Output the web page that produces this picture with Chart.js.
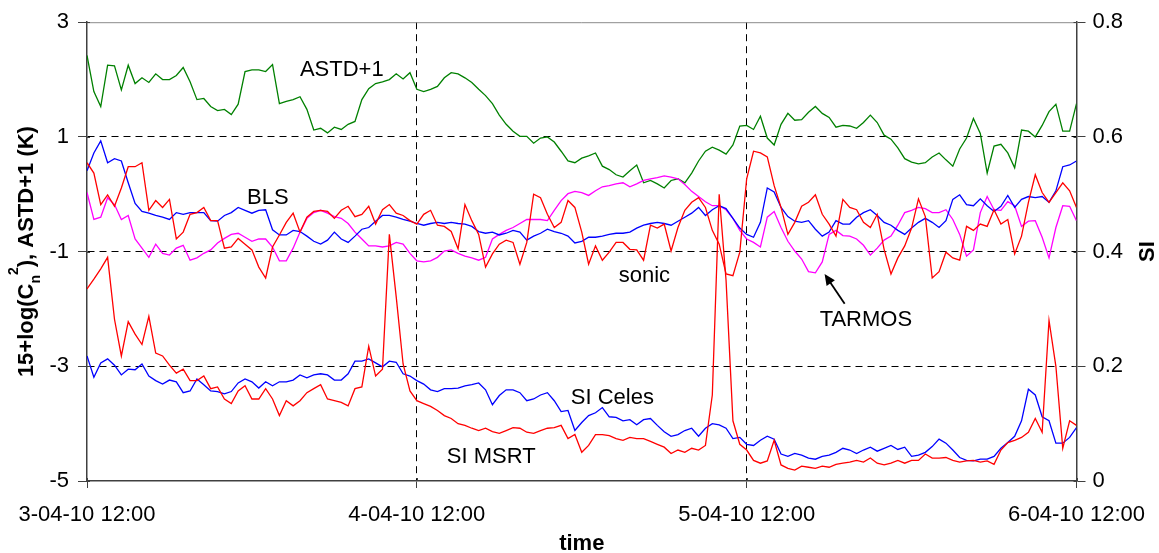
<!DOCTYPE html>
<html>
<head>
<meta charset="utf-8">
<title>Cn2 and scintillation index, 3-6 April 2010</title>
<script src="https://cdn.jsdelivr.net/npm/chart.js@4.4.1/dist/chart.umd.min.js"></script>
<style>
  html, body { margin: 0; padding: 0; background: #fff; }
  #wrap { width: 1159px; height: 553px; }
</style>
</head>
<body>
<div id="wrap"><canvas id="chart" width="1159" height="553"></canvas></div>
<script>
// samples every half hour, starting 3-04-10 12:00
const SAMPLE_STEP_HOURS = 0.5;

const timeTickLabels = ['3-04-10 12:00', '4-04-10 12:00', '5-04-10 12:00', '6-04-10 12:00'];

// left axis: ASTD + 1 (K)
const astdPlusOne = [
  2.42, 1.79, 1.53, 2.25, 2.24, 1.82, 2.25, 1.93, 2.03, 1.95,
  2.10, 2.00, 2.00, 2.07, 2.21, 1.96, 1.65, 1.67, 1.53, 1.46,
  1.48, 1.39, 1.57, 2.14, 2.17, 2.17, 2.14, 2.26, 1.58, 1.62,
  1.65, 1.70, 1.48, 1.12, 1.15, 1.07, 1.17, 1.13, 1.22, 1.27,
  1.65, 1.84, 1.93, 1.96, 2.00, 2.10, 2.01, 2.12, 1.83, 1.79,
  1.83, 1.88, 2.03, 2.12, 2.10, 2.03, 1.95, 1.83, 1.72, 1.58,
  1.38, 1.22, 1.10, 1.01, 1.01, 0.89, 0.98, 1.00, 0.91, 0.75,
  0.58, 0.55, 0.63, 0.67, 0.72, 0.49, 0.43, 0.34, 0.30, 0.41,
  0.51, 0.20, 0.24, 0.18, 0.11, 0.24, 0.27, 0.20, 0.37, 0.58,
  0.75, 0.82, 0.77, 0.70, 0.86, 1.19, 1.20, 1.13, 1.36, 0.98,
  0.86, 1.22, 1.41, 1.29, 1.30, 1.43, 1.53, 1.41, 1.34, 1.17,
  1.20, 1.19, 1.15, 1.25, 1.38, 1.25, 1.03, 0.96, 0.81, 0.62,
  0.56, 0.53, 0.55, 0.65, 0.72, 0.60, 0.49, 0.79, 0.98, 1.32,
  1.06, 0.37, 0.84, 0.87, 0.72, 0.46, 1.12, 1.10, 1.00, 1.20,
  1.44, 1.57, 1.10, 1.10, 1.58
];

// left axis: 15 + log(Cn2) per instrument
const blsCn2 = [
  0.41, 0.72, 0.93, 0.55, 0.62, 0.58, 0.20, -0.16, -0.30, -0.33,
  -0.37, -0.40, -0.44, -0.32, -0.35, -0.32, -0.32, -0.32, -0.46, -0.47,
  -0.37, -0.32, -0.23, -0.28, -0.33, -0.28, -0.27, -0.62, -0.71, -0.71,
  -0.63, -0.65, -0.73, -0.82, -0.87, -0.80, -0.66, -0.78, -0.84, -0.73,
  -0.61, -0.58, -0.47, -0.37, -0.37, -0.40, -0.44, -0.47, -0.51, -0.54,
  -0.51, -0.49, -0.51, -0.49, -0.51, -0.52, -0.56, -0.65, -0.68, -0.66,
  -0.71, -0.68, -0.63, -0.66, -0.80, -0.73, -0.68, -0.61, -0.65, -0.68,
  -0.73, -0.85, -0.82, -0.75, -0.75, -0.73, -0.70, -0.68, -0.68, -0.66,
  -0.59, -0.54, -0.51, -0.49, -0.51, -0.54, -0.47, -0.40, -0.33, -0.23,
  -0.37, -0.27, -0.20, -0.25, -0.42, -0.59, -0.70, -0.75, -0.49, 0.11,
  0.04, -0.23, -0.39, -0.47, -0.49, -0.46, -0.61, -0.73, -0.66, -0.46,
  -0.52, -0.52, -0.40, -0.32, -0.27, -0.37, -0.49, -0.54, -0.63, -0.70,
  -0.59, -0.49, -0.42, -0.49, -0.58, -0.46, -0.09, -0.01, -0.18, -0.20,
  -0.08, -0.20, -0.30, -0.21, -0.02, -0.23, -0.09, -0.04, -0.06, -0.04,
  -0.14, 0.06, 0.48, 0.51, 0.58
];

const sonicCn2 = [
  0.55, 0.37, -0.18, -0.01, -0.21, 0.11, 0.48, 0.48, 0.55, -0.28,
  -0.11, -0.23, -0.09, -0.78, -0.66, -0.35, -0.32, -0.23, -0.46, -0.46,
  -0.94, -0.92, -0.77, -0.87, -0.97, -1.27, -1.46, -0.92, -0.71, -0.49,
  -0.33, -0.66, -0.40, -0.30, -0.28, -0.30, -0.42, -0.28, -0.21, -0.39,
  -0.35, -0.21, -0.52, -0.27, -0.18, -0.33, -0.37, -0.46, -0.52, -0.35,
  -0.28, -0.54, -0.56, -0.65, -0.95, -0.18, -0.46, -0.70, -1.27, -1.04,
  -0.87, -0.80, -0.84, -1.22, -0.84, 0.00, -0.06, -0.35, -0.58, -0.49,
  -0.11, -0.23, -0.66, -1.22, -0.90, -1.15, -1.01, -0.84, -0.84, -0.96,
  -0.97, -1.15, -0.54, -0.59, -0.52, -0.99, -0.58, -0.28, -0.14, -0.06,
  -0.23, -0.63, -0.87, -1.39, -1.42, -1.01, 0.27, 0.75, 0.72, 0.65,
  0.15, -0.23, -0.70, -0.49, -0.21, -0.14, -0.01, -0.35, -0.52, -0.73,
  -0.09, -0.23, -0.27, -0.49, -0.58, -0.35, -0.96, -1.39, -1.11, -0.90,
  -0.59, -0.08, -0.39, -1.46, -1.35, -1.01, -1.11, -1.15, -0.56, -0.63,
  -0.52, -0.56, -0.27, -0.52, -0.44, -1.04, -0.73, -0.14, 0.34, 0.03,
  -0.14, 0.03, 0.20, 0.06, -0.23
];

const tarmosCn2 = [
  0.03, -0.44, -0.40, -0.06, -0.18, -0.44, -0.37, -0.78, -0.94, -1.10,
  -0.87, -1.03, -1.06, -0.94, -0.89, -1.15, -1.11, -1.03, -0.97, -0.85,
  -0.77, -0.70, -0.68, -0.75, -0.82, -0.78, -0.78, -0.92, -1.16, -1.16,
  -0.94, -0.66, -0.42, -0.32, -0.28, -0.33, -0.39, -0.42, -0.51, -0.66,
  -0.78, -0.90, -0.90, -0.92, -0.90, -0.84, -0.87, -1.03, -1.16, -1.18,
  -1.16, -1.10, -0.99, -0.97, -1.03, -1.08, -1.11, -1.15, -1.10, -0.78,
  -0.70, -0.63, -0.58, -0.51, -0.44, -0.44, -0.44, -0.46, -0.28, -0.11,
  0.01, 0.05, 0.03, -0.02, 0.06, 0.13, 0.15, 0.18, 0.20, 0.13,
  0.18, 0.24, 0.27, 0.29, 0.32, 0.30, 0.27, 0.17, 0.05, -0.04,
  -0.13, -0.20, -0.20, -0.27, -0.42, -0.63, -0.78, -0.84, -0.92, -0.40,
  -0.30, -0.58, -0.82, -0.99, -1.13, -1.35, -1.37, -1.18, -0.70, -0.63,
  -0.72, -0.73, -0.78, -0.89, -1.06, -0.94, -0.80, -0.73, -0.54, -0.32,
  -0.28, -0.23, -0.25, -0.32, -0.32, -0.27, -0.44, -0.70, -1.08, -0.97,
  -0.32, -0.04, -0.27, -0.28, -0.13, -0.20, -0.56, -0.47, -0.46, -0.75,
  -1.11, -0.58, -0.20, -0.21, -0.46
];

// right axis: scintillation index
const siCeles = [
  0.218, 0.181, 0.206, 0.213, 0.202, 0.185, 0.195, 0.194, 0.204, 0.183,
  0.175, 0.169, 0.176, 0.173, 0.154, 0.157, 0.178, 0.168, 0.157, 0.156,
  0.152, 0.156, 0.171, 0.178, 0.173, 0.162, 0.173, 0.166, 0.173, 0.173,
  0.176, 0.185, 0.180, 0.185, 0.187, 0.185, 0.176, 0.176, 0.187, 0.209,
  0.209, 0.213, 0.206, 0.199, 0.209, 0.207, 0.187, 0.183, 0.175, 0.169,
  0.159, 0.156, 0.161, 0.161, 0.162, 0.166, 0.168, 0.171, 0.159, 0.133,
  0.149, 0.159, 0.159, 0.154, 0.140, 0.143, 0.150, 0.154, 0.140, 0.121,
  0.123, 0.088, 0.102, 0.114, 0.119, 0.128, 0.112, 0.111, 0.105, 0.107,
  0.098, 0.107, 0.109, 0.097, 0.086, 0.078, 0.081, 0.088, 0.092, 0.078,
  0.092, 0.100, 0.098, 0.092, 0.074, 0.076, 0.064, 0.062, 0.071, 0.078,
  0.073, 0.047, 0.043, 0.048, 0.045, 0.040, 0.038, 0.043, 0.045, 0.050,
  0.057, 0.054, 0.048, 0.054, 0.059, 0.052, 0.057, 0.062, 0.055, 0.059,
  0.043, 0.045, 0.050, 0.060, 0.073, 0.066, 0.054, 0.041, 0.036, 0.035,
  0.038, 0.038, 0.043, 0.057, 0.067, 0.078, 0.105, 0.160, 0.150, 0.112,
  0.105, 0.066, 0.066, 0.076, 0.093
];

const siMsrt = [
  0.335, 0.352, 0.370, 0.390, 0.282, 0.218, 0.278, 0.256, 0.238, 0.287,
  0.223, 0.218, 0.202, 0.188, 0.195, 0.175, 0.175, 0.183, 0.161, 0.164,
  0.143, 0.135, 0.157, 0.166, 0.143, 0.143, 0.161, 0.143, 0.114, 0.140,
  0.131, 0.140, 0.154, 0.161, 0.168, 0.143, 0.140, 0.137, 0.131, 0.161,
  0.164, 0.235, 0.183, 0.195, 0.430, 0.321, 0.204, 0.157, 0.140, 0.135,
  0.130, 0.123, 0.114, 0.109, 0.100, 0.097, 0.092, 0.088, 0.092, 0.086,
  0.083, 0.088, 0.093, 0.092, 0.085, 0.083, 0.088, 0.092, 0.093, 0.097,
  0.074, 0.081, 0.050, 0.062, 0.081, 0.081, 0.079, 0.074, 0.071, 0.076,
  0.074, 0.074, 0.069, 0.064, 0.059, 0.048, 0.054, 0.050, 0.057, 0.054,
  0.062, 0.150, 0.500, 0.350, 0.105, 0.064, 0.054, 0.036, 0.031, 0.035,
  0.071, 0.028, 0.022, 0.019, 0.026, 0.024, 0.022, 0.026, 0.024, 0.029,
  0.031, 0.033, 0.036, 0.033, 0.040, 0.031, 0.028, 0.031, 0.036, 0.031,
  0.036, 0.036, 0.047, 0.040, 0.040, 0.041, 0.036, 0.033, 0.035, 0.036,
  0.033, 0.035, 0.029, 0.054, 0.067, 0.071, 0.076, 0.085, 0.109, 0.085,
  0.280, 0.200, 0.057, 0.105, 0.097
];

// in-plot labels, placed in data coordinates (hours, axis value)
const seriesLabels = [
  { text: 'ASTD+1',   hour: 15.49, value: 2.07,   axis: 'y' },
  { text: 'BLS',      hour: 11.64, value: -0.17,  axis: 'y' },
  { text: 'sonic',    hour: 38.69, value: -1.53,  axis: 'y' },
  { text: 'TARMOS',   hour: 53.31, value: -2.30,  axis: 'y' },
  { text: 'SI Celes', hour: 35.20, value: 0.135,  axis: 'y1' },
  { text: 'SI MSRT',  hour: 26.18, value: 0.031,  axis: 'y1' }
];
// arrow from the TARMOS label to its curve
const tarmosArrow = { fromHour: 55.13, fromValue: -1.91, toHour: 53.67, toValue: -1.39 };

const FONT = '"Liberation Sans", Arial, Helvetica, sans-serif';
const AXIS_COLOR = '#404040';

function toPoints(values) {
  return values.map((v, i) => ({ x: i * SAMPLE_STEP_HOURS, y: v }));
}

function line(label, values, color, axis) {
  return {
    label,
    data: toPoints(values),
    borderColor: color,
    backgroundColor: color,
    borderWidth: 1.3,
    pointRadius: 0,
    tension: 0,
    yAxisID: axis
  };
}

// titles, labels, top frame line and the short inner tick marks
const decorPlugin = {
  id: 'decor',
  afterDraw(chart) {
    const { ctx, chartArea: area, scales } = chart;
    ctx.save();

    // top frame
    ctx.strokeStyle = '#8c8c8c';
    ctx.lineWidth = 1;
    ctx.beginPath();
    ctx.moveTo(area.left, area.top + 0.5);
    ctx.lineTo(area.right, area.top + 0.5);
    ctx.stroke();

    // tick marks poke 3px into the plot
    ctx.strokeStyle = AXIS_COLOR;
    ctx.beginPath();
    scales.x.ticks.forEach(t => {
      const px = Math.round(scales.x.getPixelForValue(t.value)) + 0.5;
      ctx.moveTo(px, area.bottom);
      ctx.lineTo(px, area.bottom - 3);
    });
    scales.y.ticks.forEach(t => {
      const py = Math.round(scales.y.getPixelForValue(t.value)) + 0.5;
      ctx.moveTo(area.left, py);
      ctx.lineTo(area.left + 3, py);
    });
    scales.y1.ticks.forEach(t => {
      const py = Math.round(scales.y1.getPixelForValue(t.value)) + 0.5;
      ctx.moveTo(area.right, py);
      ctx.lineTo(area.right - 3, py);
    });
    ctx.stroke();

    // series labels
    ctx.fillStyle = '#000';
    ctx.font = '22px ' + FONT;
    ctx.textAlign = 'left';
    ctx.textBaseline = 'alphabetic';
    seriesLabels.forEach(l => {
      ctx.fillText(l.text, scales.x.getPixelForValue(l.hour), scales[l.axis].getPixelForValue(l.value));
    });

    // arrow
    const ax0 = scales.x.getPixelForValue(tarmosArrow.fromHour);
    const ay0 = scales.y.getPixelForValue(tarmosArrow.fromValue);
    const ax1 = scales.x.getPixelForValue(tarmosArrow.toHour);
    const ay1 = scales.y.getPixelForValue(tarmosArrow.toValue);
    const ang = Math.atan2(ay1 - ay0, ax1 - ax0);
    ctx.strokeStyle = '#000';
    ctx.lineWidth = 1.8;
    ctx.beginPath();
    ctx.moveTo(ax0, ay0);
    ctx.lineTo(ax1 - 6 * Math.cos(ang), ay1 - 6 * Math.sin(ang));
    ctx.stroke();
    ctx.beginPath();
    ctx.moveTo(ax1, ay1);
    ctx.lineTo(ax1 - 11 * Math.cos(ang) + 5 * Math.sin(ang), ay1 - 11 * Math.sin(ang) - 5 * Math.cos(ang));
    ctx.lineTo(ax1 - 11 * Math.cos(ang) - 5 * Math.sin(ang), ay1 - 11 * Math.sin(ang) + 5 * Math.cos(ang));
    ctx.closePath();
    ctx.fill();

    // x title
    ctx.font = 'bold 22px ' + FONT;
    ctx.textAlign = 'center';
    ctx.fillText('time', (area.left + area.right) / 2, 550);

    // right title, reads bottom to top
    const midY = (area.top + area.bottom) / 2;
    ctx.save();
    ctx.translate(1154, midY);
    ctx.rotate(-Math.PI / 2);
    ctx.fillText('SI', 0, 0);
    ctx.restore();

    // left title with C_n^2
    const parts = [
      { t: '15+log(C', size: 22, dy: 0 },
      { t: 'n', size: 14, dy: 7.5 },
      { t: '2', size: 14, dy: -15 },
      { t: '), ASTD+1 (K)', size: 22, dy: 0 }
    ];
    let total = 0;
    parts.forEach(p => {
      ctx.font = `bold ${p.size}px ${FONT}`;
      p.w = ctx.measureText(p.t).width;
      total += p.w;
    });
    ctx.save();
    ctx.translate(32.5, midY);
    ctx.rotate(-Math.PI / 2);
    ctx.textAlign = 'left';
    let cx = -total / 2;
    parts.forEach(p => {
      ctx.font = `bold ${p.size}px ${FONT}`;
      ctx.fillText(p.t, cx, p.dy);
      cx += p.w;
    });
    ctx.restore();

    ctx.restore();
  }
};

Chart.defaults.font.family = FONT;
Chart.defaults.font.size = 22;
Chart.defaults.color = '#000';

const edgeOrDash = (ctx, inner) => inner.includes(ctx.tick.value) ? '#000' : 'rgba(0,0,0,0)';

new Chart(document.getElementById('chart'), {
  type: 'line',
  data: {
    datasets: [
      line('SI MSRT', siMsrt, '#ff0000', 'y1'),
      line('sonic', sonicCn2, '#ff0000', 'y'),
      line('BLS', blsCn2, '#0000ff', 'y'),
      line('SI Celes', siCeles, '#0000ff', 'y1'),
      line('TARMOS', tarmosCn2, '#ff00ff', 'y'),
      line('ASTD+1', astdPlusOne, '#008000', 'y')
    ]
  },
  options: {
    responsive: false,
    animation: false,
    devicePixelRatio: 1,
    layout: { padding: { top: 18, left: 0, right: 0, bottom: 0 } },
    plugins: {
      legend: { display: false },
      tooltip: { enabled: false }
    },
    scales: {
      x: {
        type: 'linear',
        min: 0,
        max: 72,
        afterFit: s => { s.height = 72; },
        ticks: {
          stepSize: 24,
          maxRotation: 0,
          autoSkip: false,
          padding: 14,
          callback: v => timeTickLabels[Math.round(v / 24)] ?? ''
        },
        grid: {
          color: c => edgeOrDash(c, [24, 48]),
          tickColor: AXIS_COLOR,
          tickLength: 7,
          lineWidth: 1
        },
        border: { color: AXIS_COLOR, width: 1.5, dash: [7, 5] }
      },
      y: {
        position: 'left',
        min: -5,
        max: 3,
        afterFit: s => { s.width = 87; },
        ticks: { stepSize: 2, padding: 9 },
        grid: {
          color: c => edgeOrDash(c, [-3, -1, 1]),
          tickColor: AXIS_COLOR,
          tickLength: 9,
          lineWidth: 1
        },
        border: { color: AXIS_COLOR, width: 1.5, dash: [7, 5] }
      },
      y1: {
        position: 'right',
        min: 0,
        max: 0.8,
        afterFit: s => { s.width = 82; },
        ticks: {
          stepSize: 0.2,
          padding: 7,
          callback: v => (v === 0 ? '0' : v.toFixed(1))
        },
        grid: {
          drawOnChartArea: false,
          tickColor: AXIS_COLOR,
          tickLength: 9
        },
        border: { color: AXIS_COLOR, width: 1.5 }
      }
    }
  },
  plugins: [decorPlugin]
});
</script>
</body>
</html>
